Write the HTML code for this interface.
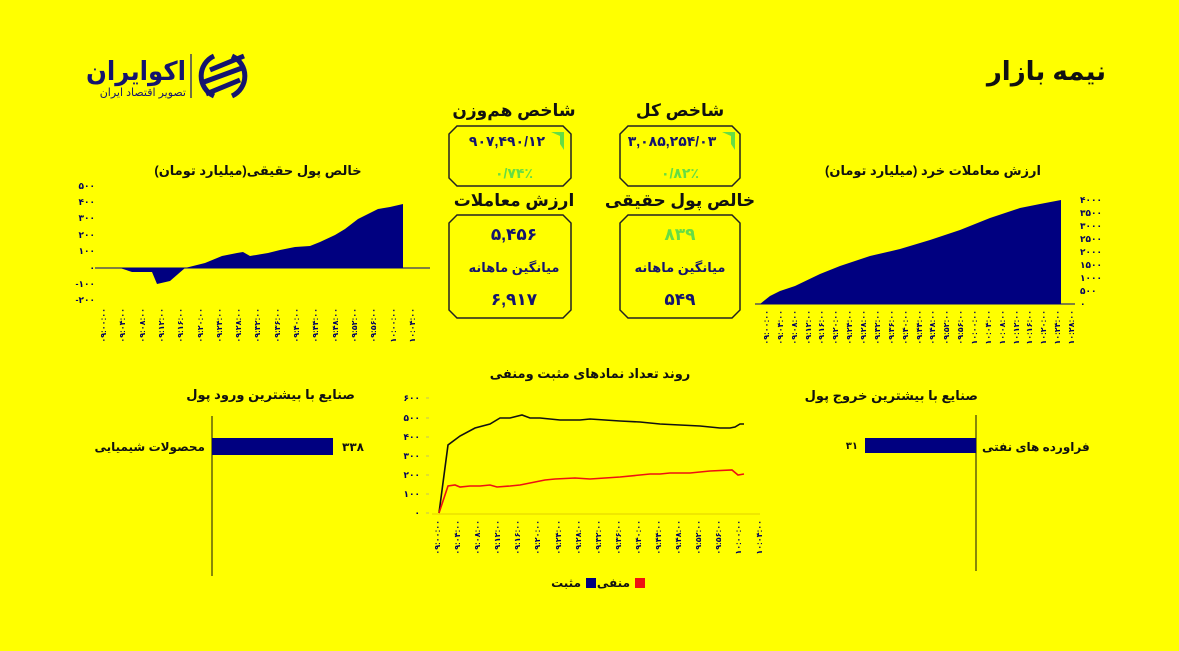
<!DOCTYPE html>
<html><head><meta charset="utf-8"><style>
html,body{margin:0;padding:0;background:#ffff00;}
svg{display:block;font-family:"Liberation Sans","DejaVu Sans","Noto Sans CJK SC",sans-serif;}
.t{font-weight:bold;fill:#111;}
.xl{font-size:8px;font-weight:bold;fill:#000060;}
.yl{font-size:9px;font-weight:bold;fill:#000060;}
</style></head><body>
<svg width="1179" height="651" viewBox="0 0 1179 651" xmlns="http://www.w3.org/2000/svg">
<rect width="1179" height="651" fill="#ffff00"/>
<!-- header -->
<text x="1106" y="80" text-anchor="end" font-size="26" font-weight="bold" fill="#111">نیمه بازار</text>
<text x="186" y="80" text-anchor="end" font-size="26" font-weight="bold" fill="#14146e" textLength="100" lengthAdjust="spacingAndGlyphs">اکوایران</text>
<text x="186" y="96" text-anchor="end" font-size="11" fill="#14146e">تصویر اقتصاد ایران</text>
<line x1="191" y1="54" x2="191" y2="98" stroke="#14146e" stroke-width="1.2"/>
<g fill="none" stroke="#14146e" stroke-width="5">
<path d="M214 96 A22 22 0 0 1 214 56"/>
<path d="M232 56 A22 22 0 0 1 232 96"/>
<path d="M210 70 L244 56"/><path d="M204 82 L242 68"/><path d="M206 94 L240 80"/>
</g>
<!-- boxes -->
<g fill="none" stroke="#222" stroke-width="1.5">
<path d="M628 126 H732 L740 134 V178 L732 186 H628 L620 178 V134 Z"/>
<path d="M457 126 H563 L571 134 V178 L563 186 H457 L449 178 V134 Z"/>
<path d="M628 215 H732 L740 223 V310 L732 318 H628 L620 310 V223 Z"/>
<path d="M457 215 H563 L571 223 V310 L563 318 H457 L449 310 V223 Z"/>
</g>
<g class="t" text-anchor="middle" font-size="17">
<text x="680" y="116">شاخص کل</text>
<text x="514" y="116">شاخص هم‌وزن</text>
<text x="680" y="206">خالص پول حقیقی</text>
<text x="514" y="206">ارزش معاملات</text>
</g>
<g font-weight="bold" text-anchor="middle" fill="#14146e">
<text x="672" y="146" font-size="14">۳,۰۸۵,۲۵۴/۰۳</text>
<text x="507" y="146" font-size="14">۹۰۷,۴۹۰/۱۲</text>
<text x="680" y="178" font-size="14" fill="#66dd44">۰/۸۲٪</text>
<text x="514" y="178" font-size="14" fill="#66dd44">۰/۷۴٪</text>
<text x="680" y="240" font-size="17" fill="#66dd44">۸۳۹</text>
<text x="514" y="240" font-size="17">۵,۴۵۶</text>
<text x="680" y="272" font-size="13">میانگین ماهانه</text>
<text x="514" y="272" font-size="13">میانگین ماهانه</text>
<text x="680" y="305" font-size="17">۵۴۹</text>
<text x="514" y="305" font-size="17">۶,۹۱۷</text>
</g>
<path d="M722 132 H735 V150 L731 144 V136 Z" fill="#66dd44"/>
<path d="M551 132 H564 V150 L560 144 V136 Z" fill="#66dd44"/>
<!-- left area chart -->
<text x="258" y="175" text-anchor="middle" class="t" font-size="13">خالص پول حقیقی(میلیارد تومان)</text>
<g class="yl" text-anchor="end">
<text x="95" y="189">۵۰۰</text><text x="95" y="205">۴۰۰</text><text x="95" y="221">۳۰۰</text><text x="95" y="238">۲۰۰</text><text x="95" y="254">۱۰۰</text><text x="95" y="271">۰</text><text x="95" y="287">-۱۰۰</text><text x="95" y="303">-۲۰۰</text>
</g>
<path d="M95 268 L120 268 L132 272 L152 272 L157 284 L170 281 L185 268 L205 263 L222 256 L237 253 L243 252 L250 256 L268 253 L280 250 L295 247 L310 246 L320 242 L335 235 L345 229 L358 219 L368 214 L378 209 L390 207 L403 204 L403 268 Z" fill="#000080"/>
<line x1="95" y1="268" x2="430" y2="268" stroke="#000080" stroke-width="1"/>
<g class="xl" text-anchor="end">
<text transform="translate(106,308) rotate(-90)">۰۹:۰۰:۰۰</text>
<text transform="translate(125,308) rotate(-90)">۰۹:۰۴:۰۰</text>
<text transform="translate(145,308) rotate(-90)">۰۹:۰۸:۰۰</text>
<text transform="translate(164,308) rotate(-90)">۰۹:۱۲:۰۰</text>
<text transform="translate(183,308) rotate(-90)">۰۹:۱۶:۰۰</text>
<text transform="translate(203,308) rotate(-90)">۰۹:۲۰:۰۰</text>
<text transform="translate(222,308) rotate(-90)">۰۹:۲۴:۰۰</text>
<text transform="translate(241,308) rotate(-90)">۰۹:۲۸:۰۰</text>
<text transform="translate(260,308) rotate(-90)">۰۹:۳۲:۰۰</text>
<text transform="translate(280,308) rotate(-90)">۰۹:۳۶:۰۰</text>
<text transform="translate(299,308) rotate(-90)">۰۹:۴۰:۰۰</text>
<text transform="translate(318,308) rotate(-90)">۰۹:۴۴:۰۰</text>
<text transform="translate(338,308) rotate(-90)">۰۹:۴۸:۰۰</text>
<text transform="translate(357,308) rotate(-90)">۰۹:۵۲:۰۰</text>
<text transform="translate(376,308) rotate(-90)">۰۹:۵۶:۰۰</text>
<text transform="translate(396,308) rotate(-90)">۱۰:۰۰:۰۰</text>
<text transform="translate(415,308) rotate(-90)">۱۰:۰۴:۰۰</text>
</g>
<!-- right area chart -->
<text x="933" y="175" text-anchor="middle" class="t" font-size="13">ارزش معاملات خرد (میلیارد تومان)</text>
<path d="M760 304 L770 296 L780 291 L795 286 L820 274 L840 266 L870 256 L900 249 L930 240 L960 230 L990 218 L1020 208 L1040 204 L1061 200 L1061 304 Z" fill="#000080"/>
<line x1="755" y1="304" x2="1075" y2="304" stroke="#000080" stroke-width="1"/>
<g class="yl" text-anchor="start">
<text x="1080" y="203">۴۰۰۰</text><text x="1080" y="216">۳۵۰۰</text><text x="1080" y="229">۳۰۰۰</text><text x="1080" y="242">۲۵۰۰</text><text x="1080" y="255">۲۰۰۰</text><text x="1080" y="268">۱۵۰۰</text><text x="1080" y="281">۱۰۰۰</text><text x="1080" y="294">۵۰۰</text><text x="1080" y="307">۰</text>
</g>
<g class="xl" text-anchor="end">
<text transform="translate(769,310) rotate(-90)">۰۹:۰۰:۰۰</text>
<text transform="translate(783,310) rotate(-90)">۰۹:۰۴:۰۰</text>
<text transform="translate(797,310) rotate(-90)">۰۹:۰۸:۰۰</text>
<text transform="translate(811,310) rotate(-90)">۰۹:۱۲:۰۰</text>
<text transform="translate(824,310) rotate(-90)">۰۹:۱۶:۰۰</text>
<text transform="translate(838,310) rotate(-90)">۰۹:۲۰:۰۰</text>
<text transform="translate(852,310) rotate(-90)">۰۹:۲۴:۰۰</text>
<text transform="translate(866,310) rotate(-90)">۰۹:۲۸:۰۰</text>
<text transform="translate(880,310) rotate(-90)">۰۹:۳۲:۰۰</text>
<text transform="translate(894,310) rotate(-90)">۰۹:۳۶:۰۰</text>
<text transform="translate(908,310) rotate(-90)">۰۹:۴۰:۰۰</text>
<text transform="translate(922,310) rotate(-90)">۰۹:۴۴:۰۰</text>
<text transform="translate(935,310) rotate(-90)">۰۹:۴۸:۰۰</text>
<text transform="translate(949,310) rotate(-90)">۰۹:۵۲:۰۰</text>
<text transform="translate(963,310) rotate(-90)">۰۹:۵۶:۰۰</text>
<text transform="translate(977,310) rotate(-90)">۱۰:۰۰:۰۰</text>
<text transform="translate(991,310) rotate(-90)">۱۰:۰۴:۰۰</text>
<text transform="translate(1005,310) rotate(-90)">۱۰:۰۸:۰۰</text>
<text transform="translate(1019,310) rotate(-90)">۱۰:۱۲:۰۰</text>
<text transform="translate(1032,310) rotate(-90)">۱۰:۱۶:۰۰</text>
<text transform="translate(1046,310) rotate(-90)">۱۰:۲۰:۰۰</text>
<text transform="translate(1060,310) rotate(-90)">۱۰:۲۴:۰۰</text>
<text transform="translate(1074,310) rotate(-90)">۱۰:۲۸:۰۰</text>
</g>
<!-- middle line chart -->
<text x="590" y="378" text-anchor="middle" class="t" font-size="13">روند تعداد نمادهای مثبت ومنفی</text>
<g class="yl" text-anchor="end">
<text x="420" y="401">۶۰۰</text><text x="420" y="421">۵۰۰</text><text x="420" y="440">۴۰۰</text><text x="420" y="459">۳۰۰</text><text x="420" y="478">۲۰۰</text><text x="420" y="497">۱۰۰</text><text x="420" y="516">۰</text>
</g>
<g stroke="#999" stroke-width="0.6"><line x1="426" y1="398" x2="429" y2="398"/><line x1="426" y1="418" x2="429" y2="418"/><line x1="426" y1="437" x2="429" y2="437"/><line x1="426" y1="456" x2="429" y2="456"/><line x1="426" y1="475" x2="429" y2="475"/><line x1="426" y1="494" x2="429" y2="494"/><line x1="426" y1="513" x2="429" y2="513"/></g>
<line x1="432" y1="514" x2="760" y2="514" stroke="#e0d000" stroke-width="1"/>
<polyline fill="none" stroke="#111" stroke-width="1.6" points="439,513 448,445 460,436 475,428 490,424 500,418 510,418 522,415 530,418 540,418 560,420 580,420 590,419 620,421 640,422 660,424 680,425 700,426 720,428 730,428 735,427 740,424 744,424"/>
<polyline fill="none" stroke="#ee1111" stroke-width="1.6" points="439,513 448,486 455,485 460,487 470,486 480,486 490,485 497,487 510,486 520,485 535,482 545,480 555,479 575,478 590,479 620,477 640,475 650,474 660,474 670,473 690,473 710,471 732,470 738,475 744,474"/>
<g class="xl" text-anchor="end">
<text transform="translate(440,520) rotate(-90)">۰۹:۰۰:۰۰</text>
<text transform="translate(460,520) rotate(-90)">۰۹:۰۴:۰۰</text>
<text transform="translate(480,520) rotate(-90)">۰۹:۰۸:۰۰</text>
<text transform="translate(500,520) rotate(-90)">۰۹:۱۲:۰۰</text>
<text transform="translate(520,520) rotate(-90)">۰۹:۱۶:۰۰</text>
<text transform="translate(540,520) rotate(-90)">۰۹:۲۰:۰۰</text>
<text transform="translate(561,520) rotate(-90)">۰۹:۲۴:۰۰</text>
<text transform="translate(581,520) rotate(-90)">۰۹:۲۸:۰۰</text>
<text transform="translate(601,520) rotate(-90)">۰۹:۳۲:۰۰</text>
<text transform="translate(621,520) rotate(-90)">۰۹:۳۶:۰۰</text>
<text transform="translate(641,520) rotate(-90)">۰۹:۴۰:۰۰</text>
<text transform="translate(661,520) rotate(-90)">۰۹:۴۴:۰۰</text>
<text transform="translate(681,520) rotate(-90)">۰۹:۴۸:۰۰</text>
<text transform="translate(701,520) rotate(-90)">۰۹:۵۲:۰۰</text>
<text transform="translate(721,520) rotate(-90)">۰۹:۵۶:۰۰</text>
<text transform="translate(741,520) rotate(-90)">۱۰:۰۰:۰۰</text>
<text transform="translate(762,520) rotate(-90)">۱۰:۰۴:۰۰</text>
</g>
<rect x="635" y="578" width="10" height="10" fill="#ee1111"/>
<text x="630" y="587" text-anchor="end" font-size="12" font-weight="bold" fill="#111">منفی</text>
<rect x="586" y="578" width="10" height="10" fill="#000080"/>
<text x="581" y="587" text-anchor="end" font-size="12" font-weight="bold" fill="#111">مثبت</text>
<!-- left bar chart -->
<text x="355" y="399" text-anchor="end" class="t" font-size="13">صنایع با بیشترین ورود پول</text>
<line x1="212" y1="416" x2="212" y2="576" stroke="#111" stroke-width="1"/>
<rect x="212" y="438" width="121" height="17" fill="#000080"/>
<text x="205" y="451" text-anchor="end" font-size="12" font-weight="bold" fill="#111">محصولات شیمیایی</text>
<text x="342" y="451" font-size="12" font-weight="bold" fill="#111">۳۳۸</text>
<!-- right bar chart -->
<text x="978" y="400" text-anchor="end" class="t" font-size="13">صنایع با بیشترین خروج پول</text>
<line x1="976" y1="415" x2="976" y2="571" stroke="#111" stroke-width="1"/>
<rect x="865" y="438" width="111" height="15" fill="#000080"/>
<text x="982" y="451" font-size="12" font-weight="bold" fill="#111" text-anchor="start">فراورده های نفتی</text>
<text x="858" y="449" text-anchor="end" font-size="10" font-weight="bold" fill="#111">۳۱</text>
</svg>
</body></html>
